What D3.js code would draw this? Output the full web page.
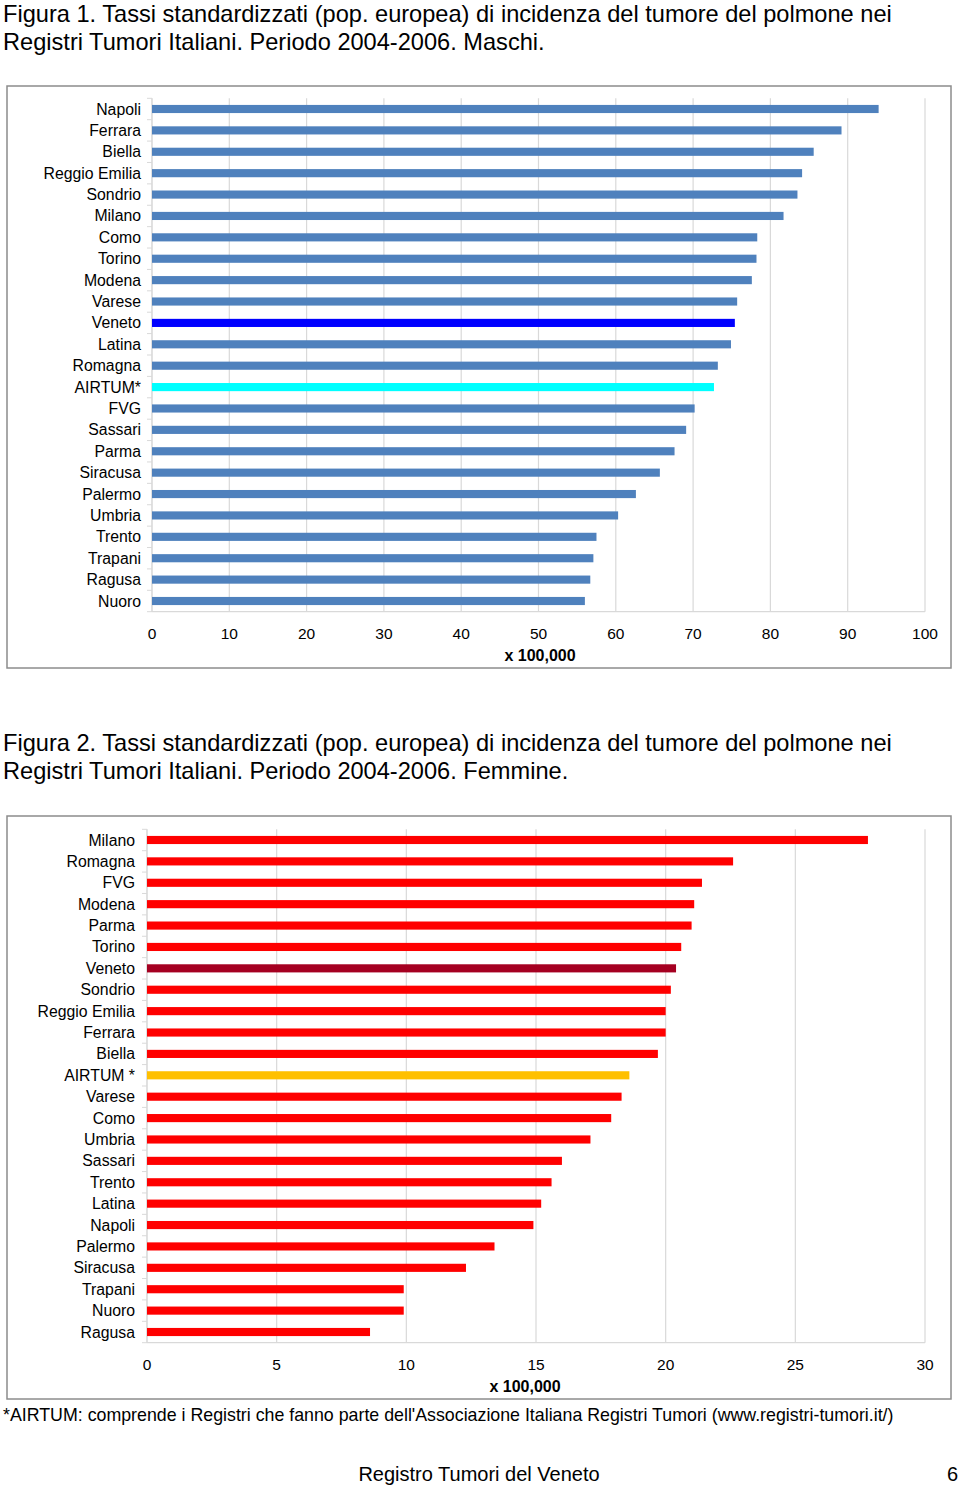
<!DOCTYPE html>
<html><head><meta charset="utf-8">
<script src="https://cdn.jsdelivr.net/npm/d3@7"></script>
<style>
body{margin:0;background:#fff;}
svg text{font-family:"Liberation Sans",Arial,sans-serif;fill:#000;}
</style></head>
<body><svg id="c" width="960" height="1486"></svg>
<script>
// ---- Data: Figura 1 (Maschi) ----
const maleCategories = ["Napoli","Ferrara","Biella","Reggio Emilia","Sondrio","Milano","Como","Torino","Modena","Varese","Veneto","Latina","Romagna","AIRTUM*","FVG","Sassari","Parma","Siracusa","Palermo","Umbria","Trento","Trapani","Ragusa","Nuoro"];
const maleValues = [94.0,89.2,85.6,84.1,83.5,81.7,78.3,78.2,77.6,75.7,75.4,74.9,73.2,72.7,70.2,69.1,67.6,65.7,62.6,60.3,57.5,57.1,56.7,56.0];
const maleTicks = [0,10,20,30,40,50,60,70,80,90,100];
// ---- Data: Figura 2 (Femmine) ----
const femaleCategories = ["Milano","Romagna","FVG","Modena","Parma","Torino","Veneto","Sondrio","Reggio Emilia","Ferrara","Biella","AIRTUM *","Varese","Como","Umbria","Sassari","Trento","Latina","Napoli","Palermo","Siracusa","Trapani","Nuoro","Ragusa"];
const femaleValues = [27.8,22.6,21.4,21.1,21.0,20.6,20.4,20.2,20.0,20.0,19.7,18.6,18.3,17.9,17.1,16.0,15.6,15.2,14.9,13.4,12.3,9.9,9.9,8.6];
const femaleTicks = [0,5,10,15,20,25,30];

const svg = d3.select("#c");
svg.append("rect").attr("width",960).attr("height",1486).attr("fill","#fff");

function titleBlock(y, lines){
  lines.forEach((t,i)=>{
    svg.append("text").attr("x",3).attr("y",y+i*28).attr("dy","0.35em")
      .attr("font-size",23.6).text(t);
  });
}

function chart(o){
  const g = svg.append("g");
  g.append("rect").attr("x",o.frame[0]).attr("y",o.frame[1])
    .attr("width",o.frame[2]-o.frame[0]).attr("height",o.frame[3]-o.frame[1])
    .attr("fill","#fff").attr("stroke","#8c8c8c").attr("stroke-width",1.5);
  const x = d3.scaleLinear().domain(o.domain).range([o.left,o.right]);
  const y = d3.scaleBand().domain(o.cats).range([o.top,o.bottom]).paddingInner(0.62).paddingOuter(0.31);
  const yb = d3.scaleBand().domain(o.cats).range([o.top,o.bottom]);
  g.selectAll(".grid").data(o.ticks).join("line")
    .attr("x1",d=>x(d)).attr("x2",d=>x(d)).attr("y1",o.top).attr("y2",o.bottom)
    .attr("stroke","#d9d9d9").attr("stroke-width",1.2);
  const bounds = o.cats.map(c=>yb(c)).concat([o.bottom]);
  g.selectAll(".ct").data(bounds).join("line")
    .attr("x1",o.left-5).attr("x2",o.left).attr("y1",d=>d).attr("y2",d=>d)
    .attr("stroke","#d9d9d9").attr("stroke-width",1);
  g.append("line").attr("x1",o.left).attr("x2",o.left).attr("y1",o.top).attr("y2",o.bottom)
    .attr("stroke","#d9d9d9").attr("stroke-width",1);
  g.append("line").attr("x1",o.left).attr("x2",x(o.domain[1])).attr("y1",o.bottom).attr("y2",o.bottom)
    .attr("stroke","#d9d9d9").attr("stroke-width",1.2);
  g.selectAll(".bar").data(o.cats).join("rect")
    .attr("x",x(0)).attr("y",c=>y(c)).attr("height",y.bandwidth())
    .attr("width",(c,i)=>x(o.vals[i])-x(0))
    .attr("fill",c=>o.colors[c]||o.color);
  g.selectAll(".lab").data(o.cats).join("text")
    .attr("x",o.labelX).attr("y",c=>yb(c)+yb.bandwidth()/2).attr("dy","0.35em")
    .attr("text-anchor","end").attr("font-size",15.8).text(c=>c);
  g.selectAll(".tl").data(o.ticks).join("text")
    .attr("x",d=>x(d)).attr("y",o.tickY).attr("dy","0.35em")
    .attr("text-anchor","middle").attr("font-size",15.5).text(d=>d);
  g.append("text").attr("x",o.unitX).attr("y",o.unitY).attr("dy","0.35em")
    .attr("text-anchor","middle").attr("font-size",16).attr("font-weight","bold").text("x 100,000");
}

titleBlock(13.5,["Figura 1. Tassi standardizzati (pop. europea) di incidenza del tumore del polmone nei","Registri Tumori Italiani. Periodo 2004-2006. Maschi."]);
chart({frame:[7,86,951,668],domain:[0,100],left:152,right:925,top:98.3,bottom:611.7,
  cats:maleCategories,vals:maleValues,ticks:maleTicks,color:"#4f81bd",
  colors:{"Veneto":"#0000ff","AIRTUM*":"#00ffff"},labelX:141,tickY:634,unitX:540,unitY:655});

titleBlock(742.5,["Figura 2. Tassi standardizzati (pop. europea) di incidenza del tumore del polmone nei","Registri Tumori Italiani. Periodo 2004-2006. Femmine."]);
chart({frame:[7,816,951,1399],domain:[0,30],left:147,right:925,top:829.3,bottom:1342.7,
  cats:femaleCategories,vals:femaleValues,ticks:femaleTicks,color:"#ff0000",
  colors:{"Veneto":"#a50021","AIRTUM *":"#ffc000"},labelX:135,tickY:1365,unitX:525,unitY:1386});

svg.append("text").attr("x",3).attr("y",1415).attr("dy","0.35em").attr("font-size",17.8)
  .text("*AIRTUM: comprende i Registri che fanno parte dell'Associazione Italiana Registri Tumori (www.registri-tumori.it/)");
svg.append("text").attr("x",479).attr("y",1474).attr("dy","0.35em").attr("font-size",20).attr("text-anchor","middle")
  .text("Registro Tumori del Veneto");
svg.append("text").attr("x",958).attr("y",1474).attr("dy","0.35em").attr("font-size",20).attr("text-anchor","end")
  .text("6");
</script></body></html>
